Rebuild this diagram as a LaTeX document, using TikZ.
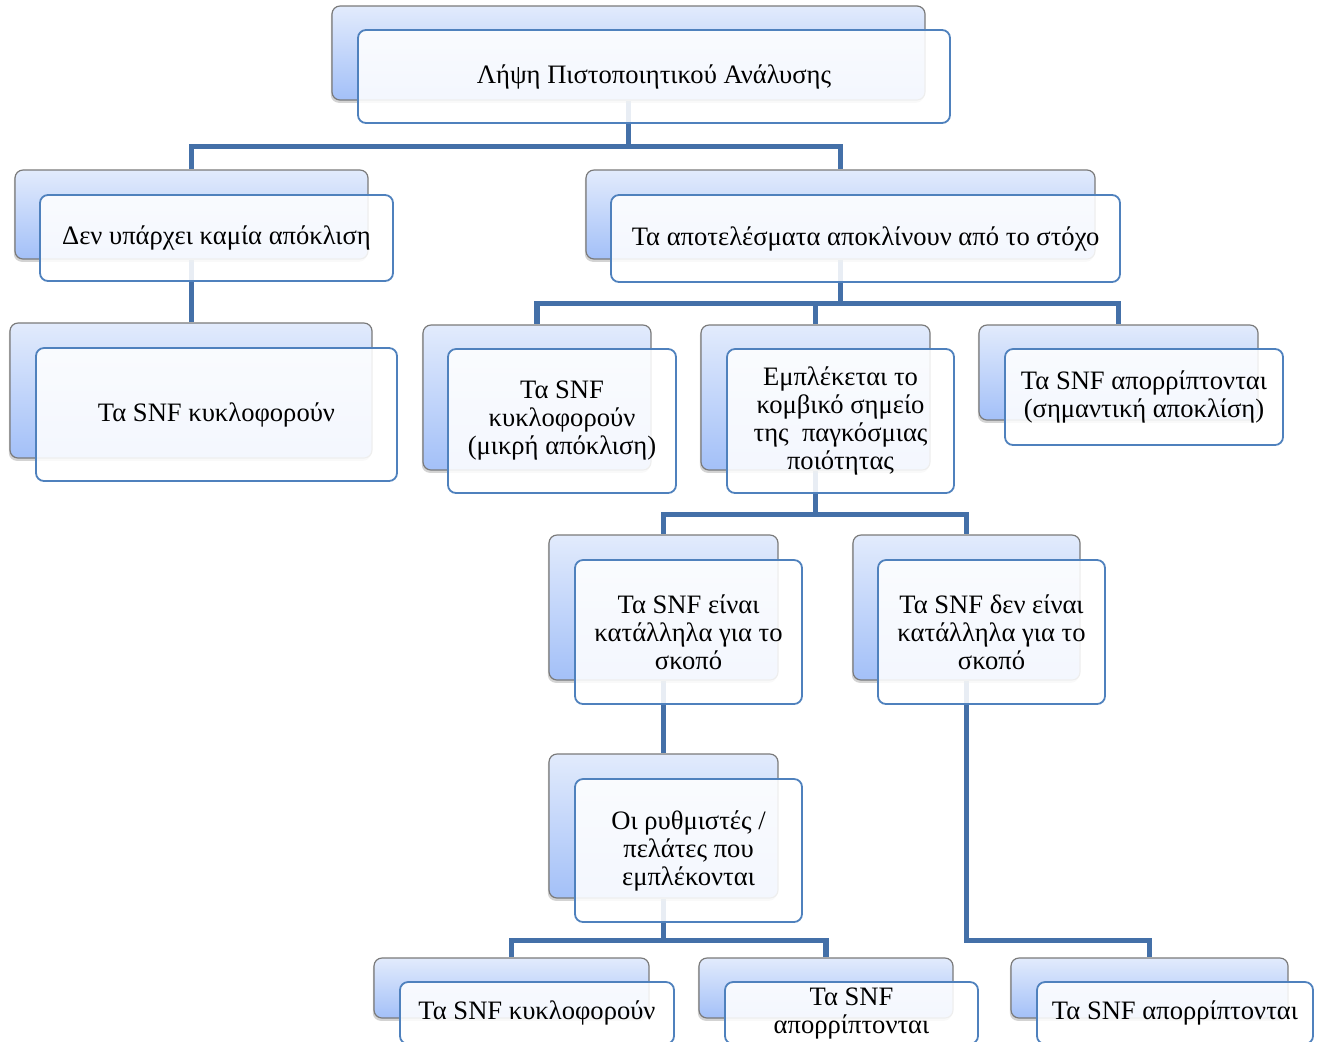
\documentclass[tikz,border=0pt]{standalone}
\usepackage{fontspec}
\setmainfont{Liberation Serif}
\usepackage{tikz}
\usetikzlibrary{fit,calc,backgrounds,shadows}

\definecolor{linkblue}{HTML}{4470A8}
\definecolor{edgeblue}{HTML}{4F81BD}
\definecolor{topblue}{HTML}{E2EBFC}
\definecolor{botblue}{HTML}{A3C0F8}

\begin{document}
\begin{tikzpicture}[
  x=0.5pt,y=-0.5pt,
  font=\fontsize{13.3}{14}\selectfont,
  back/.style={draw=black!52,line width=0.6pt,rounded corners=4pt,inner sep=0pt,
               top color=topblue,bottom color=botblue,
               drop shadow={shadow xshift=-0.6pt,shadow yshift=-1.4pt,opacity=0.35}},
  front/.style={draw=edgeblue,line width=0.9pt,rounded corners=4pt,inner sep=0pt,
                fill=white,fill opacity=0.88,text opacity=1,align=center},
  link/.style={draw=linkblue,line width=2.6pt}]

\useasboundingbox (0,0) rectangle (1320,1041);
\clip (0,0) rectangle (1320,1041);

% ---- back plates ------------------------------------------------------
\node[back,fit={(332,6) (925,100)}]     (root-b)    {};
\node[back,fit={(15,170) (368,259)}]    (nodev-b)   {};
\node[back,fit={(586,170) (1095,259)}]  (dev-b)     {};
\node[back,fit={(10,323) (372,458)}]    (circ-b)    {};
\node[back,fit={(423,325) (651,470)}]   (minor-b)   {};
\node[back,fit={(701,325) (930,470)}]   (hub-b)     {};
\node[back,fit={(979,325) (1258,420)}]  (reject-b)  {};
\node[back,fit={(549,535) (778,680)}]   (suit-b)    {};
\node[back,fit={(853,535) (1080,680)}]  (unsuit-b)  {};
\node[back,fit={(549,754) (778,898)}]   (client-b)  {};
\node[back,fit={(374,958) (649,1018)}]  (circtwo-b) {};
\node[back,fit={(699,958) (953,1018)}]  (rejtwo-b)  {};
\node[back,fit={(1011,958) (1288,1018)}](rejthree-b){};

% ---- text boxes -------------------------------------------------------
\node[front,minimum width=296pt,minimum height=46.5pt] (root) at (654,76.5)
  {Λήψη Πιστοποιητικού Ανάλυσης};
\node[front,minimum width=176.5pt,minimum height=43pt] (nodev) at (216.5,238)
  {Δεν υπάρχει καμία απόκλιση};
\node[front,minimum width=254.5pt,minimum height=43.5pt] (dev) at (865.5,238.5)
  {Τα αποτελέσματα αποκλίνουν από το στόχο};
\node[front,minimum width=180.5pt,minimum height=66.5pt] (circ) at (216.5,414.5)
  {Τα SNF κυκλοφορούν};
\node[front,minimum width=114pt,minimum height=72pt] (minor) at (562,421)
  {Τα SNF\\κυκλοφορούν\\(μικρή απόκλιση)};
\node[front,minimum width=113.5pt,minimum height=72pt] (hub) at (840.5,421)
  {Εμπλέκεται το\\κομβικό σημείο\\της \ παγκόσμιας\\ποιότητας};
\node[front,minimum width=139pt,minimum height=48pt] (reject) at (1144,397)
  {Τα SNF απορρίπτονται\\(σημαντική αποκλίση)};
\node[front,minimum width=113.5pt,minimum height=72pt] (suit) at (688.5,632)
  {Τα SNF είναι\\κατάλληλα για το\\σκοπό};
\node[front,minimum width=113.5pt,minimum height=72pt] (unsuit) at (991.5,632)
  {Τα SNF δεν είναι\\κατάλληλα για το\\σκοπό};
\node[front,minimum width=113.5pt,minimum height=71.5pt] (client) at (688.5,850.5)
  {Οι ρυθμιστές /\\πελάτες που\\εμπλέκονται};
\node[front,minimum width=137pt,minimum height=31pt] (circtwo) at (537,1013)
  {Τα SNF κυκλοφορούν};
\node[front,minimum width=126.5pt,minimum height=31pt] (rejtwo) at (851.5,1013)
  {Τα SNF\\απορρίπτονται};
\node[front,minimum width=138pt,minimum height=31pt] (rejthree) at (1175,1013)
  {Τα SNF απορρίπτονται};

% ---- connectors -------------------------------------------------------
\coordinate (lowbar) at ($(client.south)!.5!(circtwo-b.north)$);
\begin{pgfonlayer}{background}
\foreach \c in {nodev,dev}
  \draw[link] (root-b.south) |- ($(root.south)!.5!(\c-b.north)$) -| (\c-b.north);
\draw[link] (nodev-b.south) -- (nodev-b.south |- circ-b.north);
\foreach \c in {minor,hub,reject}
  \draw[link] (dev-b.south) |- ($(dev.south)!.5!(\c-b.north)$) -| (\c-b.north);
\foreach \c in {suit,unsuit}
  \draw[link] (hub-b.south) |- ($(hub.south)!.5!(\c-b.north)$) -| (\c-b.north);
\draw[link] (suit-b.south) -- (client-b.north);
\foreach \c in {circtwo,rejtwo}
  \draw[link] (client-b.south) |- (lowbar -| \c-b.north) -- (\c-b.north);
\draw[link] (unsuit-b.south) -- (unsuit-b.south |- lowbar) -| (rejthree-b.north);
\end{pgfonlayer}
\end{tikzpicture}
\end{document}
